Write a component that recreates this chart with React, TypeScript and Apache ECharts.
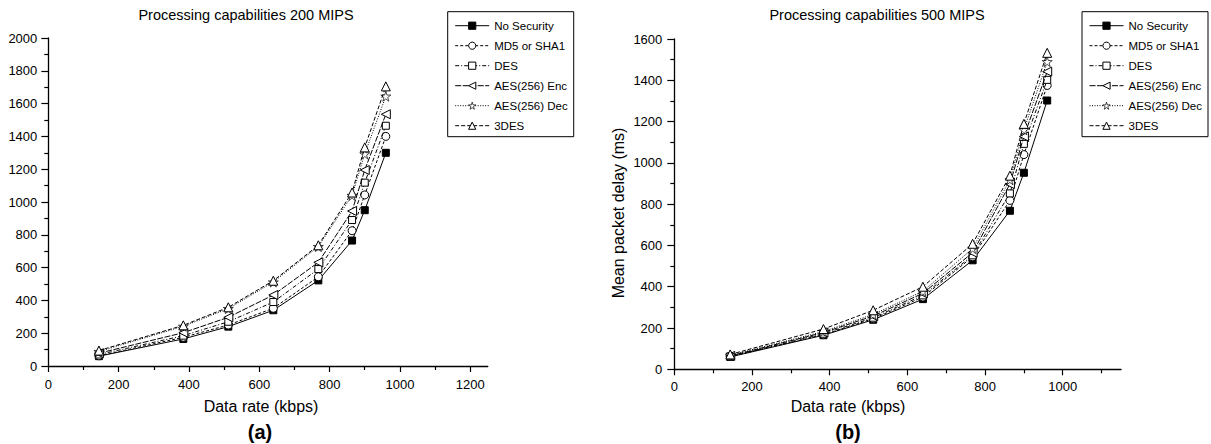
import React, { useEffect, useRef } from "react";
import * as echarts from "echarts";

// Data rate (kbps)
const dataRates = [144, 384, 512, 640, 768, 864, 900, 960];

const seriesNames = ["No Security", "MD5 or SHA1", "DES", "AES(256) Enc", "AES(256) Dec", "3DES"];

// (a) Processing capabilities 200 MIPS — mean packet delay (ms)
const noSecurity200 = [60, 165, 240, 340, 522, 765, 950, 1300];
const md5Sha1_200 = [62, 175, 250, 352, 544, 825, 1043, 1400];
const des200 = [70, 185, 270, 390, 591, 890, 1118, 1465];
const aesEnc200 = [78, 203, 297, 433, 632, 945, 1195, 1535];
const aesDec200 = [88, 242, 350, 512, 728, 1040, 1293, 1645];
const tripleDes200 = [94, 248, 358, 520, 736, 1058, 1333, 1705];

// (b) Processing capabilities 500 MIPS — mean packet delay (ms)
const noSecurity500 = [60, 165, 240, 340, 528, 768, 952, 1302];
const md5Sha1_500 = [62, 168, 245, 350, 545, 818, 1040, 1375];
const des500 = [63, 172, 250, 358, 552, 852, 1092, 1402];
const aesEnc500 = [65, 178, 258, 368, 565, 897, 1128, 1442];
const aesDec500 = [68, 183, 266, 378, 585, 918, 1160, 1490];
const tripleDes500 = [72, 195, 286, 400, 608, 938, 1189, 1533];

const leftXMajor = [0, 200, 400, 600, 800, 1000, 1200];
const leftXMinor = [100, 300, 500, 700, 900, 1100];
const rightXMajor = [0, 200, 400, 600, 800, 1000];
const rightXMinor = [100, 300, 500, 700, 900, 1100];

const STAR = "path://M50,0L61,35L98,35L68,57L79,91L50,70L21,91L32,57L2,35L39,35Z";
const LEFT_TRI = "path://M0,50L100,0L100,100Z";

const styles = [
  { symbol: "rect", size: 7, fill: "#000", dash: "solid" as any, bw: 1 },
  { symbol: "circle", size: 8, fill: "#fff", dash: [3, 2], bw: 1 },
  { symbol: "rect", size: 7, fill: "#fff", dash: [4, 2, 1, 2], bw: 1 },
  { symbol: LEFT_TRI, size: 9, fill: "#fff", dash: [6, 1.5], bw: 1 },
  { symbol: STAR, size: 10, fill: "#fff", dash: [1, 1.5], bw: 0.7 },
  { symbol: "triangle", size: 9, fill: "#fff", dash: [4, 2], bw: 1 },
];

const FONT = "'Liberation Sans', Arial, Helvetica, sans-serif";

export default function App() {
  const ref = useRef<HTMLDivElement>(null);

  useEffect(() => {
    if (!ref.current) return;
    const chart = echarts.init(ref.current, undefined, { renderer: "svg" });

    const set200 = [noSecurity200, md5Sha1_200, des200, aesEnc200, aesDec200, tripleDes200];
    const set500 = [noSecurity500, md5Sha1_500, des500, aesEnc500, aesDec500, tripleDes500];

    const mk = (vals: number[], i: number, xIdx: number, yIdx: number) => ({
      type: "line",
      name: seriesNames[i],
      xAxisIndex: xIdx,
      yAxisIndex: yIdx,
      data: dataRates.map((x, k) => [x, vals[k]]),
      symbol: styles[i].symbol,
      symbolSize: styles[i].size,
      showAllSymbol: true,
      lineStyle: { color: "#000", width: 1, type: styles[i].dash },
      itemStyle: { color: styles[i].fill, borderColor: "#000", borderWidth: styles[i].bw },
      z: 2 + i,
    });

    const axisLine = { show: true, lineStyle: { color: "#000", width: 1.3 } };
    const label = {
      color: "#000",
      fontSize: 13,
      fontFamily: FONT,
      formatter: (v: number) => String(v),
    };

    const legendData = seriesNames.map((n, i) => ({
      name: n,
      itemStyle: { color: styles[i].fill, borderColor: "#000", borderWidth: styles[i].bw },
    }));

    const legendBase = {
      orient: "vertical",
      top: 11.7,
      data: legendData,
      selectedMode: false,
      itemWidth: 34,
      itemHeight: 9,
      itemGap: 6,
      padding: [7, 6, 4, 7],
      borderColor: "#000",
      borderWidth: 1,
      backgroundColor: "#fff",
      lineStyle: { width: 1 },
      textStyle: { color: "#000", fontSize: 11.5, fontFamily: FONT, lineHeight: 14 },
    };

    const textEl = (text: string, x: number, y: number, size: number, bold = false, rotation = 0) => ({
      type: "text",
      x,
      y,
      rotation,
      style: {
        text,
        fill: "#000",
        font: `${bold ? "bold " : ""}${size}px ${FONT}`,
        textAlign: "center",
        textVerticalAlign: "middle",
        align: "center",
        verticalAlign: "middle",
      },
    });

    chart.setOption({
      animation: false,
      backgroundColor: "#fff",
      grid: [
        { left: 48.3, top: 38, width: 439.5, height: 328 },
        { left: 674.3, top: 39, width: 446.7, height: 330.3 },
      ],
      legend: [
        { ...legendBase, left: 447.7 },
        { ...legendBase, left: 1082 },
      ],
      xAxis: [
        {
          type: "value", gridIndex: 0, min: 0, max: 1250,
          axisLine, splitLine: { show: false },
          axisTick: { show: true, length: 6, customValues: leftXMajor, lineStyle: { color: "#000", width: 1.2 } },
          axisLabel: { ...label, margin: 12, customValues: leftXMajor },
        },
        {
          type: "value", gridIndex: 0, min: 0, max: 1250, position: "bottom",
          axisLine: { show: false }, splitLine: { show: false },
          axisTick: { show: true, length: 4, customValues: leftXMinor, lineStyle: { color: "#000", width: 1.2 } },
          axisLabel: { show: false },
        },
        {
          type: "value", gridIndex: 1, min: 0, max: 1150,
          axisLine, splitLine: { show: false },
          axisTick: { show: true, length: 6, customValues: rightXMajor, lineStyle: { color: "#000", width: 1.2 } },
          axisLabel: { ...label, margin: 11, customValues: rightXMajor },
        },
        {
          type: "value", gridIndex: 1, min: 0, max: 1150, position: "bottom",
          axisLine: { show: false }, splitLine: { show: false },
          axisTick: { show: true, length: 4, customValues: rightXMinor, lineStyle: { color: "#000", width: 1.2 } },
          axisLabel: { show: false },
        },
      ],
      yAxis: [
        {
          type: "value", gridIndex: 0, min: 0, max: 2000, interval: 200,
          axisLine, splitLine: { show: false },
          axisTick: { show: true, length: 7, lineStyle: { color: "#000", width: 1.2 } },
          minorTick: { show: true, splitNumber: 2, length: 4, lineStyle: { color: "#000", width: 1.2 } },
          axisLabel: { ...label, margin: 11 },
        },
        {
          type: "value", gridIndex: 1, min: 0, max: 1600, interval: 200,
          axisLine, splitLine: { show: false },
          axisTick: { show: true, length: 7, lineStyle: { color: "#000", width: 1.2 } },
          minorTick: { show: true, splitNumber: 2, length: 4, lineStyle: { color: "#000", width: 1.2 } },
          axisLabel: { ...label, margin: 12 },
        },
      ],
      series: [
        ...set200.map((v, i) => mk(v, i, 0, 0)),
        ...set500.map((v, i) => mk(v, i, 2, 1)),
      ],
      graphic: [
        textEl("Processing capabilities 200 MIPS", 246, 15, 14.5),
        textEl("Processing capabilities 500 MIPS", 877, 15, 14.5),
        textEl("Data rate (kbps)", 261, 406, 16),
        textEl("Data rate (kbps)", 848, 406, 16),
        textEl("(a)", 260, 432, 20, true),
        textEl("(b)", 848, 432, 20, true),
        textEl("Mean packet delay (ms)", 618, 213, 16, false, Math.PI / 2),
      ],
    });

    return () => chart.dispose();
  }, []);

  return (
    <div
      ref={ref}
      style={{ position: "fixed", left: 0, top: 0, width: 1211, height: 444, background: "#fff" }}
    />
  );
}
